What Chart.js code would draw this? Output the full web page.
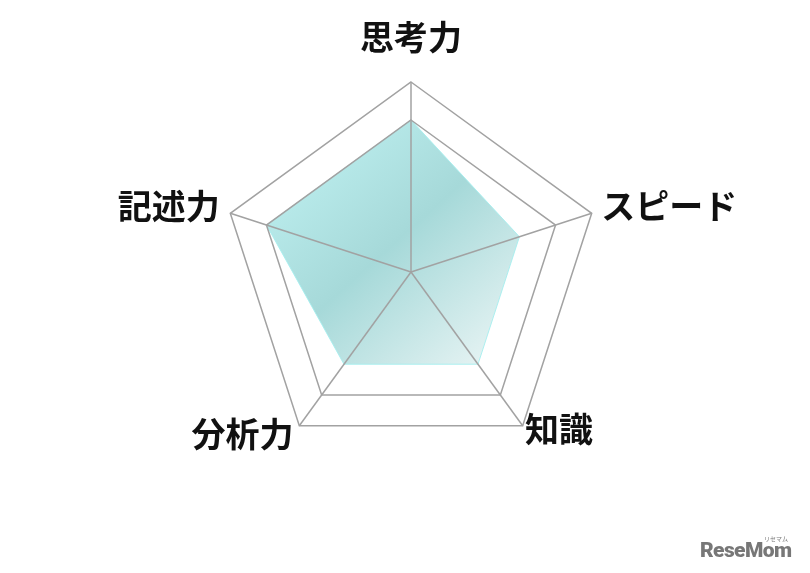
<!DOCTYPE html>
<html>
<head>
<meta charset="utf-8">
<script src="https://cdn.jsdelivr.net/npm/chart.js@4/dist/chart.umd.min.js"></script>
<style>
  html, body { margin: 0; padding: 0; background: #ffffff; }
  #wrap { position: relative; width: 810px; height: 573px; }
  #logo { position: absolute; left: 700px; top: 534px; width: 100px; height: 34px; color: #777; font-family: Roboto, 'Liberation Sans', sans-serif; }
  #logo .main { position: absolute; left: 0; top: 4px; font-size: 21px; font-weight: 900; letter-spacing: -0.6px; }
  #logo .kana { position: absolute; left: 64px; top: 0px; font-size: 6px; font-family: 'Noto Sans CJK JP', sans-serif; }
</style>
</head>
<body>
<div id="wrap">
  <canvas id="c"></canvas>
  <div id="logo"><span class="kana">リセマム</span><span class="main">ReseMom</span></div>
</div>
<script>
// ---- data ----
const categories = ['思考力', 'スピード', '知識', '分析力', '記述力'];
const scores = [4, 3, 3, 3, 4];
const scaleMin = 0;
const scaleMax = 5;
const visibleRings = [4, 5];

// ---- label placement styles (per axis) ----
const labelPadding = [45, 10, 4, 10, 11];
const labelLineHeight = [0, '8px', 0, 0, '8px'];

function fillGradient(context) {
  const chart = context.chart;
  const r = chart.scales && chart.scales.r;
  if (!r || !r.drawingArea) return '#b0e2e2';
  const cx = r.xCenter, cy = r.yCenter, d = r.drawingArea;
  const g = chart.ctx.createLinearGradient(cx - 0.58 * d, cy - 0.64 * d, cx + 0.52 * d, cy + 0.59 * d);
  g.addColorStop(0, '#bceeee');
  g.addColorStop(0.42, '#a6d9d9');
  g.addColorStop(1, '#f2f8f8');
  return g;
}

new Chart(document.getElementById('c'), {
  type: 'radar',
  data: {
    labels: categories,
    datasets: [{
      data: scores,
      backgroundColor: fillGradient,
      borderColor: 'rgba(165,238,238,0.9)',
      borderWidth: 1,
      pointRadius: 0,
      pointHoverRadius: 0,
      fill: true
    }]
  },
  options: {
    responsive: true,
    maintainAspectRatio: false,
    animation: false,
    devicePixelRatio: 1,
    layout: { padding: { left: 20, right: 8, top: 15, bottom: 88 } },
    plugins: { legend: { display: false }, tooltip: { enabled: false }, title: { display: false } },
    scales: {
      r: {
        min: scaleMin,
        max: scaleMax,
        ticks: { display: false, stepSize: 1, z: 1 },
        grid: {
          z: 1,
          color: (ctx) => (ctx.tick && visibleRings.includes(ctx.tick.value)) ? '#a2a2a2' : 'rgba(0,0,0,0)',
          lineWidth: 1.5
        },
        angleLines: { color: '#a2a2a2', lineWidth: 1.5 },
        pointLabels: {
          color: '#111111',
          padding: (ctx) => labelPadding[ctx.index],
          font: (ctx) => ({
            family: "'Noto Sans CJK JP', sans-serif",
            size: 34,
            weight: 'bold',
            lineHeight: labelLineHeight[ctx.index]
          })
        }
      }
    }
  }
});
</script>
</body>
</html>
